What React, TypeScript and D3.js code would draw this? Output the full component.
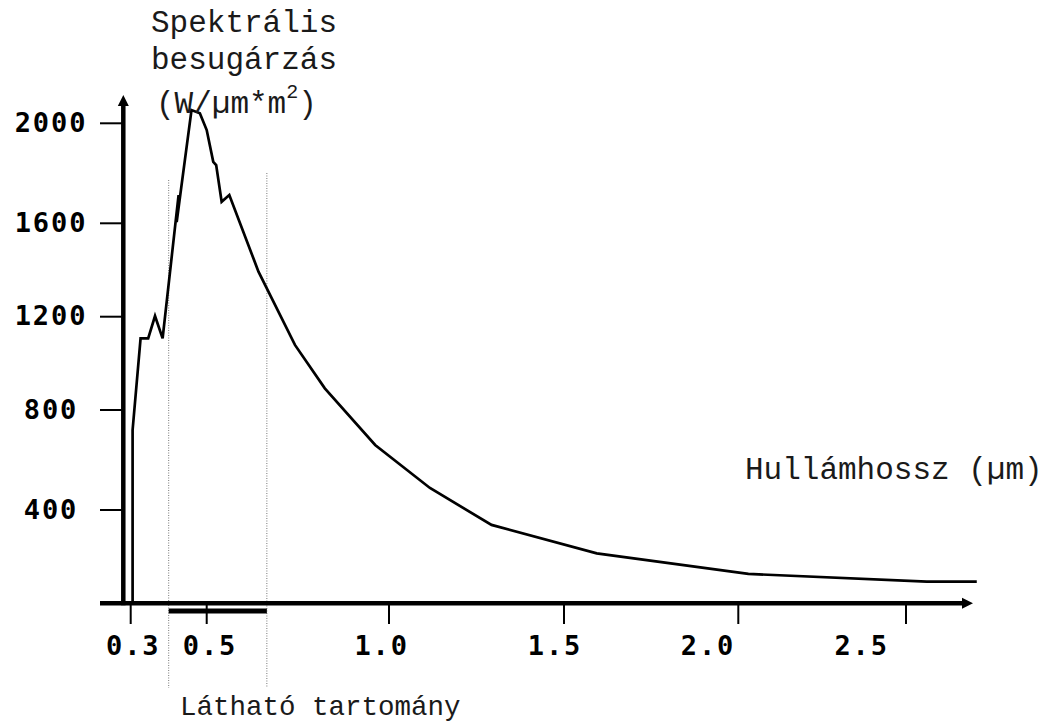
import React from 'react';
import * as d3 from 'd3';

// ---- data ----
const X_TICKS = [0.3, 0.5, 1.0, 1.5, 2.0, 2.5];
const X_TICK_LABELS = ['0.3', '0.5', '1.0', '1.5', '2.0', '2.5'];
const Y_TICKS = [0, 400, 800, 1200, 1600, 2000];
const Y_TICK_LABELS = ['', '400', '800', '1200', '1600', '2000'];
const WAVELENGTH = [0.305, 0.305, 0.326, 0.346, 0.364, 0.384, 0.426, 0.421, 0.46, 0.482, 0.5, 0.518, 0.526, 0.541, 0.562, 0.642, 0.742, 0.824, 0.962, 1.117, 1.293, 1.594, 2.03, 2.562, 2.711];
const IRRADIANCE = [0, 720, 1107, 1107, 1203, 1107, 1713, 1605, 2053, 2040, 1973, 1846, 1833, 1686, 1713, 1393, 1079, 893, 660, 488, 336, 214, 126, 93, 93];
const VISIBLE_RANGE = [0.4, 0.665];
const TITLE_LINES = ['Spektrális', 'besugárzás'];
const X_TITLE = 'Hullámhossz (µm)';
const VISIBLE_LABEL = 'Látható tartomány';

// ---- layout (hand-drawn figure: scale is piecewise) ----
const X_RANGE = [130.7, 206.7, 389, 564, 738.3, 906];
const Y_RANGE = [603.3, 510, 410, 316.7, 223.3, 123.3];
const X_LABEL_NUDGE = [2.6, 3.3, -7.3, -9, -30.3, -44.3];

export default function App() {
  const x = d3.scaleLinear().domain(X_TICKS).range(X_RANGE);
  const y = d3.scaleLinear().domain(Y_TICKS).range(Y_RANGE);
  const pts = WAVELENGTH.map((w, i) => [w, IRRADIANCE[i]] as [number, number]);
  const line = d3.line<[number, number]>().x(d => x(d[0])).y(d => y(d[1]));
  const axisY = y(0);
  const axisX = 123.3;
  const tickFont = { fontFamily: '"DejaVu Sans Mono", monospace', fontWeight: 700, fontSize: 27, letterSpacing: 1.9 } as const;
  const textFont = { fontFamily: '"Liberation Mono", "Courier New", monospace', fontWeight: 400 } as const;

  return (
    <svg width={1046} height={722} style={{ position: 'absolute', left: 0, top: 0, background: '#fff' }}>
      {/* visible range dotted lines */}
      <line x1={x(VISIBLE_RANGE[0])} x2={x(VISIBLE_RANGE[0])} y1={180} y2={688} stroke="#777" strokeWidth={1} strokeDasharray="1,1.5" />
      <line x1={x(VISIBLE_RANGE[1])} x2={x(VISIBLE_RANGE[1])} y1={173} y2={688} stroke="#777" strokeWidth={1} strokeDasharray="1,1.5" />

      {/* curve */}
      <path d={line(pts) || ''} fill="none" stroke="#000" strokeWidth={2.7} strokeLinejoin="miter" />

      {/* x axis */}
      <line x1={100} x2={965} y1={axisY} y2={axisY} stroke="#000" strokeWidth={4.5} />
      <polygon points={`973,${axisY} 962,${axisY - 5.5} 962,${axisY + 5.5}`} fill="#000" />
      {X_TICKS.map((t, i) => (
        <g key={'xt' + i}>
          <line x1={x(t)} x2={x(t)} y1={axisY} y2={624} stroke="#000" strokeWidth={2} />
          <text x={x(t) + X_LABEL_NUDGE[i]} y={655} textAnchor="middle" style={tickFont}>{X_TICK_LABELS[i]}</text>
        </g>
      ))}
      {/* visible range bar */}
      <line x1={x(VISIBLE_RANGE[0])} x2={x(VISIBLE_RANGE[1])} y1={611} y2={611} stroke="#000" strokeWidth={5} />

      {/* y axis */}
      <line x1={axisX} x2={axisX} y1={axisY + 2} y2={104} stroke="#000" strokeWidth={4.5} />
      <polygon points={`${axisX},95 ${axisX - 5.5},106 ${axisX + 5.5},106`} fill="#000" />
      {Y_TICKS.filter(t => t > 0).map((t, i) => (
        <g key={'yt' + i}>
          <line x1={100} x2={axisX} y1={y(t)} y2={y(t)} stroke="#000" strokeWidth={2} />
          <text x={51} y={y(t) + 8.5} textAnchor="middle" style={tickFont}>{Y_TICK_LABELS[Y_TICKS.indexOf(t)]}</text>
        </g>
      ))}

      {/* titles */}
      <text x={244} y={32} textAnchor="middle" fontSize={31} style={textFont} fill="#1a1a1a">{TITLE_LINES[0]}</text>
      <text x={244} y={69} textAnchor="middle" fontSize={31} style={textFont} fill="#1a1a1a">{TITLE_LINES[1]}</text>
      <text x={156} y={113} fontSize={31} style={textFont} fill="#1a1a1a">
        (W/µm*m<tspan fontSize={20} dy={-15}>2</tspan><tspan dy={15}>)</tspan>
      </text>
      <text x={745} y={479} fontSize={31} style={textFont} fill="#1a1a1a">{X_TITLE}</text>
      <text x={180} y={715} fontSize={27.5} style={textFont} fill="#1a1a1a">{VISIBLE_LABEL}</text>
    </svg>
  );
}
